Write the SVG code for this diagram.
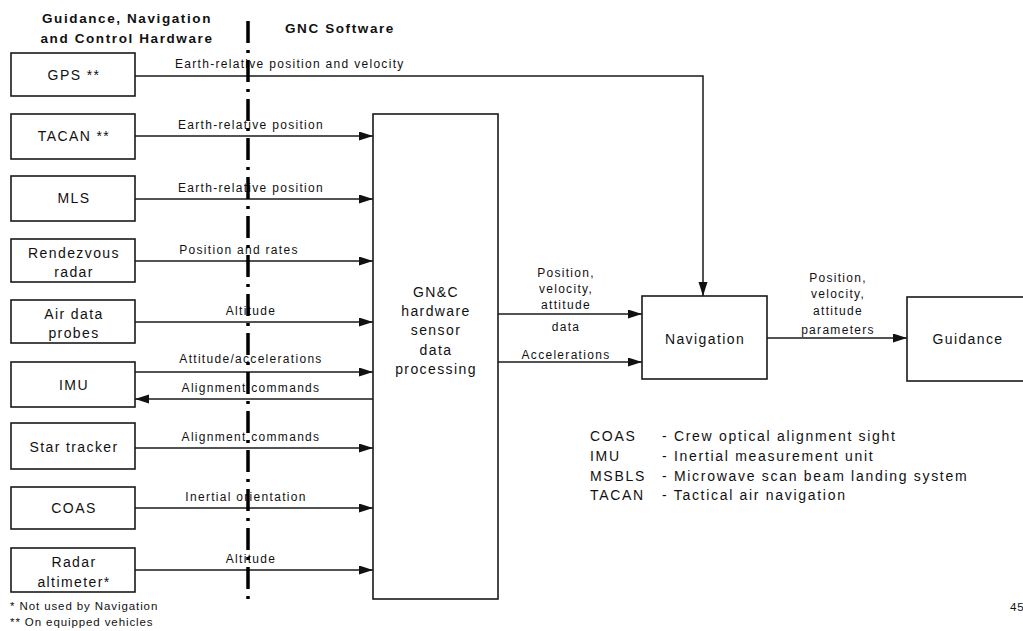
<svg xmlns="http://www.w3.org/2000/svg" width="1023" height="631" viewBox="0 0 1023 631">
<style>
.box{fill:#fff;stroke:#1a1a1a;stroke-width:1.6}
.bt{font-family:"Liberation Sans",Arial,sans-serif;font-size:14px;letter-spacing:1.4px;fill:#111;text-anchor:middle}
.el{font-family:"Liberation Sans",Arial,sans-serif;font-size:12px;letter-spacing:1.3px;fill:#111;text-anchor:middle}
.hd{font-family:"Liberation Sans",Arial,sans-serif;font-size:13.5px;font-weight:bold;letter-spacing:1.6px;fill:#111;text-anchor:middle}
.lg{font-family:"Liberation Sans",Arial,sans-serif;font-size:14px;letter-spacing:1.7px;fill:#111}
.fn{font-family:"Liberation Sans",Arial,sans-serif;font-size:11.5px;letter-spacing:0.9px;fill:#111}
.ln{fill:none;stroke:#1a1a1a;stroke-width:1.5}
</style>
<defs>
<marker id="ah" markerUnits="userSpaceOnUse" markerWidth="15" markerHeight="10" refX="14" refY="4.5" orient="auto">
<path d="M0,0 L14,4.5 L0,9 z" fill="#111"/>
</marker>
</defs>
<rect width="1023" height="631" fill="#fff"/>

<g id="headers">
<text class="hd" x="127" y="23">Guidance, Navigation</text>
<text class="hd" x="127" y="43">and Control Hardware</text>
<text class="hd" x="340" y="33">GNC Software</text>
</g>

<g id="connectors">
<path class="ln" d="M135,76 H703 V296" marker-end="url(#ah)"/>
<path class="ln" d="M135,136 H373" marker-end="url(#ah)"/>
<path class="ln" d="M135,199 H373" marker-end="url(#ah)"/>
<path class="ln" d="M135,261 H373" marker-end="url(#ah)"/>
<path class="ln" d="M135,322 H373" marker-end="url(#ah)"/>
<path class="ln" d="M135,372 H373" marker-end="url(#ah)"/>
<path class="ln" d="M373,399 H135" marker-end="url(#ah)"/>
<path class="ln" d="M135,448 H373" marker-end="url(#ah)"/>
<path class="ln" d="M135,508 H373" marker-end="url(#ah)"/>
<path class="ln" d="M135,570 H373" marker-end="url(#ah)"/>
<path class="ln" d="M498,314 H642" marker-end="url(#ah)"/>
<path class="ln" d="M498,362 H642" marker-end="url(#ah)"/>
<path class="ln" d="M767,338 H907" marker-end="url(#ah)"/>
<text class="el" x="175" y="68" style="text-anchor:start">Earth-relative position and velocity</text>
<text class="el" x="251" y="129">Earth-relative position</text>
<text class="el" x="251" y="192">Earth-relative position</text>
<text class="el" x="239" y="254">Position and rates</text>
<text class="el" x="251" y="315">Altitude</text>
<text class="el" x="251" y="363">Attitude/accelerations</text>
<text class="el" x="251" y="392">Alignment commands</text>
<text class="el" x="251" y="441">Alignment commands</text>
<text class="el" x="246" y="501">Inertial orientation</text>
<text class="el" x="251" y="563">Altitude</text>
<text class="el" x="566" y="277">Position,</text>
<text class="el" x="566" y="293">velocity,</text>
<text class="el" x="566" y="309">attitude</text>
<text class="el" x="566" y="331">data</text>
<text class="el" x="566" y="359">Accelerations</text>
<text class="el" x="838" y="282">Position,</text>
<text class="el" x="838" y="298">velocity,</text>
<text class="el" x="838" y="315">attitude</text>
<text class="el" x="838" y="334">parameters</text>
</g>

<line id="divider" x1="248" y1="21" x2="248" y2="605" stroke="#000" stroke-width="3.5" stroke-dasharray="22 7 3 7"/>

<g id="gps"><rect class="box" x="11" y="53" width="124" height="43"/><text class="bt" x="74" y="80">GPS **</text></g>
<g id="tacan"><rect class="box" x="11" y="114" width="124" height="45"/><text class="bt" x="74" y="141">TACAN **</text></g>
<g id="mls"><rect class="box" x="11" y="176" width="124" height="45"/><text class="bt" x="74" y="203">MLS</text></g>
<g id="rendezvous"><rect class="box" x="11" y="239" width="124" height="43"/><text class="bt" x="74" y="258">Rendezvous</text><text class="bt" x="74" y="277">radar</text></g>
<g id="airdata"><rect class="box" x="11" y="300" width="124" height="43"/><text class="bt" x="74" y="319">Air data</text><text class="bt" x="74" y="338">probes</text></g>
<g id="imu"><rect class="box" x="11" y="362" width="124" height="45"/><text class="bt" x="74" y="390">IMU</text></g>
<g id="startracker"><rect class="box" x="11" y="423" width="124" height="46"/><text class="bt" x="74" y="452">Star tracker</text></g>
<g id="coas"><rect class="box" x="11" y="487" width="124" height="42"/><text class="bt" x="74" y="513">COAS</text></g>
<g id="radaralt"><rect class="box" x="11" y="548" width="124" height="44"/><text class="bt" x="74" y="567">Radar</text><text class="bt" x="74" y="587">altimeter*</text></g>

<g id="processing"><rect class="box" x="373" y="114" width="125" height="485"/>
<text class="bt" x="436" y="297">GN&amp;C</text>
<text class="bt" x="436" y="316">hardware</text>
<text class="bt" x="436" y="335">sensor</text>
<text class="bt" x="436" y="355">data</text>
<text class="bt" x="436" y="374">processing</text>
</g>
<g id="navigation"><rect class="box" x="642" y="296" width="125" height="83"/><text class="bt" x="705" y="344">Navigation</text></g>
<g id="guidance"><rect class="box" x="907" y="297" width="130" height="84"/><text class="bt" x="968" y="344">Guidance</text></g>

<g id="legend">
<text class="lg" x="590" y="441">COAS</text><text class="lg" x="662" y="441">- Crew optical alignment sight</text>
<text class="lg" x="590" y="461">IMU</text><text class="lg" x="662" y="461">- Inertial measurement unit</text>
<text class="lg" x="590" y="481">MSBLS</text><text class="lg" x="662" y="481">- Microwave scan beam landing system</text>
<text class="lg" x="590" y="500">TACAN</text><text class="lg" x="662" y="500">- Tactical air navigation</text>
</g>
<g id="footnotes">
<text class="fn" x="10" y="610">* Not used by Navigation</text>
<text class="fn" x="10" y="626">** On equipped vehicles</text>
<text class="fn" x="1010" y="611">45</text>
</g>
</svg>
